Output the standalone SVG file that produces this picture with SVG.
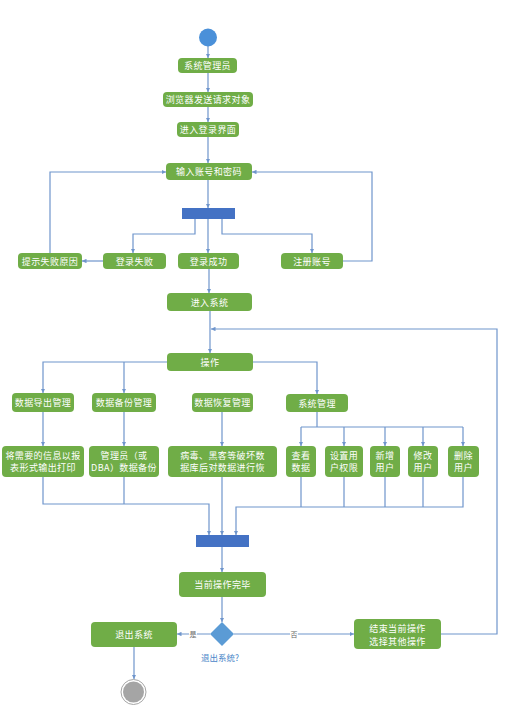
<svg xmlns="http://www.w3.org/2000/svg" width="511" height="715" viewBox="0 0 511 715">
<style>
.box{fill:#70AD47;}
.t{fill:#fff;font-family:"Noto Sans CJK SC","Noto Sans",sans-serif;font-size:9px;text-anchor:middle;dominant-baseline:central;letter-spacing:0.4px;}
.ln{fill:none;stroke:#6F95CC;stroke-width:1.2;}
.ar{marker-end:url(#ah);}
.bar{fill:#4472C4;}
.lbl{fill:#666;font-family:"Noto Sans CJK SC","Noto Sans",sans-serif;font-size:7px;text-anchor:middle;dominant-baseline:central;}
</style>
<defs>
<marker id="ah" viewBox="0 0 8 8" refX="8" refY="4" markerWidth="4.5" markerHeight="4.5" orient="auto" markerUnits="userSpaceOnUse">
<path d="M0,0 L8,4 L0,8 z" fill="#6F95CC"/>
</marker>
</defs>
<rect width="511" height="715" fill="#fff"/>

<g id="connectors">
<path class="ln ar" d="M208,46 V58"/>
<path class="ln ar" d="M208,73 V92"/>
<path class="ln ar" d="M208,107 V122"/>
<path class="ln ar" d="M208,137 V163"/>
<path class="ln ar" d="M208,180 V208"/>
<path class="ln ar" d="M195,219 V234 H133 V253"/>
<path class="ln ar" d="M208,219 V253"/>
<path class="ln ar" d="M222,219 V234 H312 V253"/>
<path class="ln ar" d="M103,261 H82"/>
<path class="ln ar" d="M50,253 V172 H166"/>
<path class="ln ar" d="M343,261 H372 V172 H252"/>
<path class="ln ar" d="M209,269 V293"/>
<path class="ln ar" d="M210,311 V353"/>
<path class="ln ar" d="M441,634 H497 V329 H211"/>
<path class="ln ar" d="M167,362 H43 V393"/>
<path class="ln ar" d="M124,362 V393"/>
<path class="ln ar" d="M253,362 H317 V394"/>
<path class="ln ar" d="M43,412 V446"/>
<path class="ln ar" d="M124,412 V446"/>
<path class="ln ar" d="M222,412 V446"/>
<path class="ln" d="M317,412 V427 M301,427 H463"/>
<path class="ln ar" d="M301,427 V446"/>
<path class="ln ar" d="M344,427 V446"/>
<path class="ln ar" d="M385,427 V446"/>
<path class="ln ar" d="M423,427 V446"/>
<path class="ln ar" d="M463,427 V446"/>
<path class="ln ar" d="M43,477 V504 H209 V535"/>
<path class="ln" d="M124,477 V504"/>
<path class="ln ar" d="M222,477 V535"/>
<path class="ln" d="M301,477 V507 M344,477 V507 M385,477 V507 M423,477 V507"/>
<path class="ln ar" d="M463,477 V507 H236 V535"/>
<path class="ln ar" d="M222,547 V572"/>
<path class="ln ar" d="M222,597 V622"/>
<path class="ln ar" d="M210,634 H177"/>
<path class="ln ar" d="M234,634 H354"/>
<path class="ln ar" d="M134,647 V679"/>
<rect x="189" y="630" width="8" height="8" fill="#fff"/>
<text class="lbl" x="193" y="634">是</text>
<rect x="290" y="630" width="8" height="8" fill="#fff"/>
<text class="lbl" x="294" y="634">否</text>
</g>

<g id="start"><circle cx="208" cy="37.5" r="9" fill="#4A90D9"/></g>
<g id="n1"><rect class="box" x="178" y="58" width="59" height="15" rx="4"/><text class="t" x="207.5" y="65.5">系统管理员</text></g>
<g id="n2"><rect class="box" x="163" y="92" width="90" height="15" rx="4"/><text class="t" x="208" y="99.5">浏览器发送请求对象</text></g>
<g id="n3"><rect class="box" x="177" y="122" width="62" height="15" rx="4"/><text class="t" x="208" y="129.5">进入登录界面</text></g>
<g id="n4"><rect class="box" x="166" y="163" width="86" height="17" rx="4"/><text class="t" x="209" y="171.5">输入账号和密码</text></g>
<g id="bar1"><rect class="bar" x="182" y="208" width="53" height="11"/></g>
<g id="n5"><rect class="box" x="18" y="253" width="64" height="16" rx="4"/><text class="t" x="50" y="261">提示失败原因</text></g>
<g id="n6"><rect class="box" x="103" y="253" width="63" height="16" rx="4"/><text class="t" x="134.5" y="261">登录失败</text></g>
<g id="n7"><rect class="box" x="178" y="253" width="61" height="16" rx="4"/><text class="t" x="208.5" y="261">登录成功</text></g>
<g id="n8"><rect class="box" x="281" y="253" width="62" height="16" rx="4"/><text class="t" x="312" y="261">注册账号</text></g>
<g id="n9"><rect class="box" x="167" y="293" width="85" height="18" rx="4"/><text class="t" x="209.5" y="302">进入系统</text></g>
<g id="n10"><rect class="box" x="167" y="353" width="86" height="18" rx="4"/><text class="t" x="210" y="362">操作</text></g>
<g id="n11"><rect class="box" x="12" y="393" width="62" height="19" rx="4"/><text class="t" x="43" y="402.5">数据导出管理</text></g>
<g id="n12"><rect class="box" x="92" y="393" width="64" height="19" rx="4"/><text class="t" x="124" y="402.5">数据备份管理</text></g>
<g id="n13"><rect class="box" x="192" y="393" width="61" height="19" rx="4"/><text class="t" x="222.5" y="402.5">数据恢复管理</text></g>
<g id="n14"><rect class="box" x="286" y="394" width="62" height="18" rx="4"/><text class="t" x="317" y="403">系统管理</text></g>
<g id="c1"><rect class="box" x="2" y="446" width="82" height="31" rx="4"/><text class="t" x="43" y="455.5">将需要的信息以报</text><text class="t" x="43" y="467.5">表形式输出打印</text></g>
<g id="c2"><rect class="box" x="89" y="446" width="70" height="31" rx="4"/><text class="t" x="124" y="455.5">管理员（或</text><text class="t" x="124" y="467.5">DBA）数据备份</text></g>
<g id="c3"><rect class="box" x="168" y="446" width="109" height="31" rx="4"/><text class="t" x="222.5" y="455.5">病毒、黑客等破坏数</text><text class="t" x="222.5" y="467.5">据库后对数据进行恢</text></g>
<g id="c4"><rect class="box" x="286" y="446" width="30" height="31" rx="4"/><text class="t" x="301" y="455.5">查看</text><text class="t" x="301" y="467.5">数据</text></g>
<g id="c5"><rect class="box" x="325" y="446" width="38" height="31" rx="4"/><text class="t" x="344" y="455.5">设置用</text><text class="t" x="344" y="467.5">户权限</text></g>
<g id="c6"><rect class="box" x="370" y="446" width="30" height="31" rx="4"/><text class="t" x="385" y="455.5">新增</text><text class="t" x="385" y="467.5">用户</text></g>
<g id="c7"><rect class="box" x="408" y="446" width="30" height="31" rx="4"/><text class="t" x="423" y="455.5">修改</text><text class="t" x="423" y="467.5">用户</text></g>
<g id="c8"><rect class="box" x="448" y="446" width="31" height="31" rx="4"/><text class="t" x="463.5" y="455.5">删除</text><text class="t" x="463.5" y="467.5">用户</text></g>
<g id="bar2"><rect class="bar" x="196" y="535" width="53" height="12"/></g>
<g id="n15"><rect class="box" x="179" y="572" width="87" height="25" rx="4"/><text class="t" x="222.5" y="584.5">当前操作完毕</text></g>
<g id="decision"><path d="M222,622 L234,634 L222,646 L210,634 z" fill="#5B9BD5"/><text x="220" y="657" fill="#4A86C8" font-family="Noto Sans CJK SC, Noto Sans, sans-serif" font-size="8.5" text-anchor="middle" dominant-baseline="central">退出系统?</text></g>
<g id="n16"><rect class="box" x="91" y="622" width="86" height="25" rx="4"/><text class="t" x="134" y="634.5">退出系统</text></g>
<g id="n17"><rect class="box" x="354" y="619" width="87" height="30" rx="4"/><text class="t" x="397.5" y="628">结束当前操作</text><text class="t" x="397.5" y="641">选择其他操作</text></g>
<g id="end"><circle cx="133.5" cy="692" r="12.5" fill="#fff" stroke="#A5A5A5" stroke-width="1"/><circle cx="133.5" cy="692" r="10.5" fill="#A5A5A5"/></g>
</svg>
